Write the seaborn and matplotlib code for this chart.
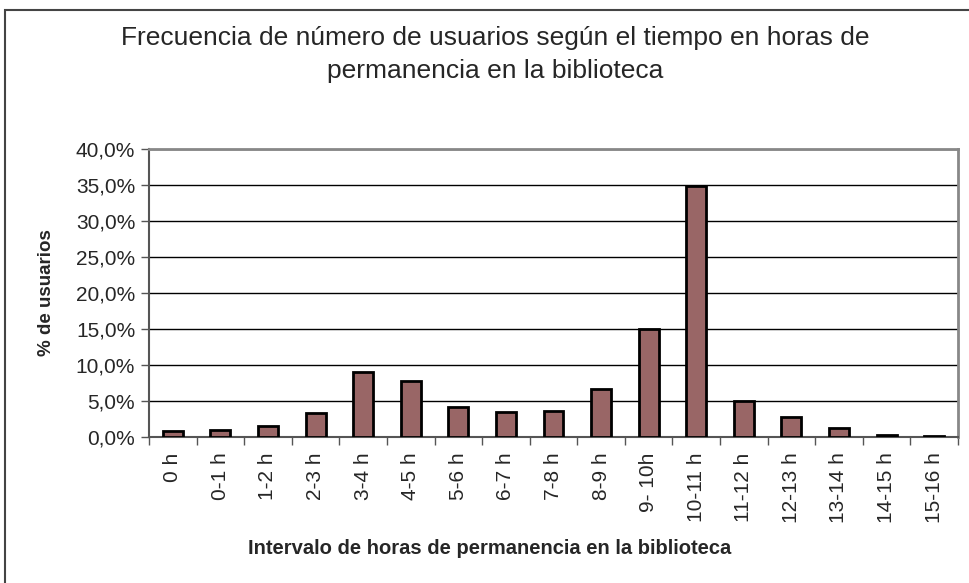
import numpy as np
import pandas as pd
import matplotlib
matplotlib.use('Agg')
import matplotlib.pyplot as plt
from matplotlib.ticker import FuncFormatter, FixedLocator
from matplotlib.patches import Rectangle
import seaborn as sns

sns.set_style("white")
plt.rcParams['font.family'] = ['Liberation Sans', 'DejaVu Sans']

# datos
intervalos = ['0 h', '0-1 h', '1-2 h', '2-3 h', '3-4 h', '4-5 h', '5-6 h', '6-7 h',
              '7-8 h', '8-9 h', '9- 10h', '10-11 h', '11-12 h', '12-13 h',
              '13-14 h', '14-15 h', '15-16 h']
porcentaje = [0.8, 1.0, 1.5, 3.3, 9.0, 7.8, 4.1, 3.5, 3.6, 6.7, 15.0, 34.9,
              5.0, 2.8, 1.2, 0.3, 0.1]
y_ticks = [0, 5, 10, 15, 20, 25, 30, 35, 40]

df = pd.DataFrame({'intervalo': intervalos, 'pct': porcentaje})

fig = plt.figure(figsize=(9.69, 5.83), dpi=100)
ax = fig.add_axes([0.1538, 0.2504, 0.9886 - 0.1538, 0.7444 - 0.2504])

sns.barplot(data=df, x='intervalo', y='pct', color='#996666', saturation=1,
            edgecolor='black', linewidth=2, width=0.42, ax=ax, zorder=3)

ax.set_xlim(-0.5, len(intervalos) - 0.5)
ax.set_ylim(0, 40)
ax.yaxis.set_major_locator(FixedLocator(y_ticks))
ax.yaxis.set_major_formatter(FuncFormatter(lambda v, p: f'{v:.1f}%'.replace('.', ',')))
ax.grid(axis='y', color='black', linewidth=1, zorder=0)
ax.set_axisbelow(True)

ax.tick_params(axis='y', which='major', direction='out', length=6, width=1,
               color='#555555', labelsize=15, pad=4, left=True)
ax.tick_params(axis='x', which='major', length=0, labelsize=15, pad=11,
               labelrotation=90)
ax.set_xticks(np.arange(-0.5, len(intervalos), 1), minor=True)
ax.tick_params(axis='x', which='minor', direction='out', length=6, width=1,
               color='#555555', bottom=True)

for s in ['left', 'bottom']:
    ax.spines[s].set_color('#555555')
    ax.spines[s].set_linewidth(1.5)
for s in ['top', 'right']:
    ax.spines[s].set_color('#888888')
    ax.spines[s].set_linewidth(2)

ax.set_xlabel('Intervalo de horas de permanencia en la biblioteca',
              fontsize=14.5, fontweight='bold')
ax.xaxis.set_label_coords((490 - 149) / (958 - 149), (437 - 548) / (437 - 149))
ax.xaxis.label.set_va('center')
ax.set_ylabel('% de usuarios', fontsize=13.5, fontweight='bold')
ax.yaxis.set_label_coords((46 - 149) / (958 - 149), 0.5)
ax.yaxis.label.set_va('center')

fig.text(0.511, 1 - 54.5 / 583,
         'Frecuencia de número de usuarios según el tiempo en horas de\npermanencia en la biblioteca',
         ha='center', va='center', fontsize=19, linespacing=1.48)

# marco exterior
fig.patches.append(Rectangle((5 / 969, -0.01), 1.0, 1 - 10 / 583 + 0.01,
                             transform=fig.transFigure, fill=False,
                             edgecolor='#444444', linewidth=1.5))

plt.savefig('out.png', dpi=100)
